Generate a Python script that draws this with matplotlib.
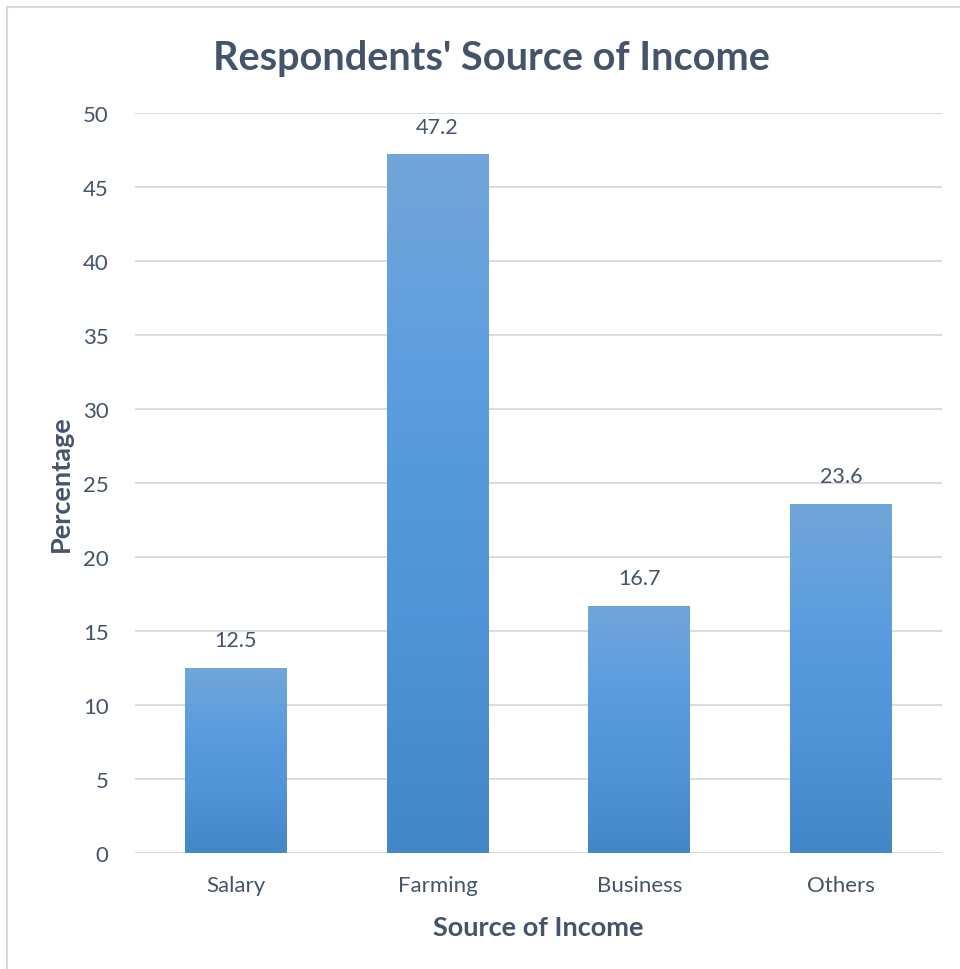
import numpy as np
import matplotlib
matplotlib.use("Agg")
import matplotlib.pyplot as plt
from matplotlib.colors import LinearSegmentedColormap
from matplotlib.patches import Rectangle

categories = ["Salary", "Farming", "Business", "Others"]
percentages = [12.5, 47.2, 16.7, 23.6]
y_ticks = [0, 5, 10, 15, 20, 25, 30, 35, 40, 45, 50]

text_col = "#44546a"
grid_col = "#d9d9d9"

plt.rcParams["font.family"] = ["Lato", "DejaVu Sans"]

fig = plt.figure(figsize=(9.6, 9.7), dpi=100)
ax = fig.add_axes([0.1406, 0.1196, 0.8404, 0.7629])

# light border of the chart area
fig.add_artist(Rectangle((7 / 960, -0.1), 1.2, 1 - 8 / 970 + 0.1,
                         transform=fig.transFigure, fill=False,
                         edgecolor=grid_col, linewidth=1.5))

bars = ax.bar(range(len(categories)), percentages, width=0.505, color="none",
              zorder=3)

# vertical gradient, light at top -> darker at bottom
cmap = LinearSegmentedColormap.from_list(
    "excel", ["#4487c7", "#4f94d6", "#5b9ddf", "#72a6d9"])
grad = np.linspace(0, 1, 256).reshape(-1, 1)
for b in bars:
    x0, w, h = b.get_x(), b.get_width(), b.get_height()
    im = ax.imshow(grad, cmap=cmap, origin="lower", aspect="auto",
                   extent=(x0, x0 + w, 0, h), zorder=3)
    im.set_clip_path(b)
    ax.text(b.get_x() + w / 2, h + 1.2, f"{h:.1f}", ha="center", va="bottom",
            fontsize=15.5, color=text_col)

ax.set_xlim(-0.5, len(categories) - 0.5)
ax.set_ylim(0, 50)
ax.set_yticks(y_ticks)
ax.set_xticks(range(len(categories)))
ax.set_xticklabels(categories)
ax.tick_params(axis="both", length=0, labelsize=16, labelcolor=text_col)
ax.tick_params(axis="y", pad=19)
ax.tick_params(axis="x", pad=16)
ax.grid(axis="y", color=grid_col, linewidth=1.3, zorder=0)
for s in ax.spines.values():
    s.set_visible(False)

ax.set_ylabel("Percentage", fontsize=19.5, fontweight="bold", color=text_col,
              labelpad=7)
ax.set_xlabel("Source of Income", fontsize=19.5, fontweight="bold",
              color=text_col, labelpad=14)
fig.text(0.512, 0.94, "Respondents' Source of Income", ha="center",
         va="center", fontsize=28.5, fontweight="bold", color=text_col)

fig.savefig("out.png", dpi=100, facecolor="white")
